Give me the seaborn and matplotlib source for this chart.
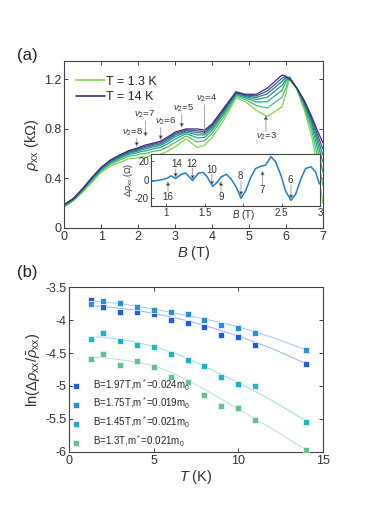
import matplotlib
matplotlib.use("Agg")
import matplotlib.pyplot as plt
from matplotlib.lines import Line2D
import seaborn as sns
import pandas as pd

# ---------------- (a) rho_xx vs B, several temperatures ----------------
field = [0, 0.25, 0.5, 0.75, 1.0, 1.25, 1.5, 1.75, 1.97, 2.1, 2.2, 2.4, 2.6, 2.8, 3.0,
         3.3, 3.6, 3.8, 4.0, 4.3, 4.65, 4.9, 5.2, 5.5, 5.8, 5.9, 6.0, 6.1, 6.3, 6.5,
         6.7, 6.85, 7.0]
rho_c0 = [0.17, 0.22, 0.29, 0.37, 0.45, 0.50, 0.53, 0.56, 0.565, 0.575, 0.57, 0.59, 0.595, 0.62, 0.655,
          0.72, 0.65, 0.67, 0.73, 0.86, 1.05, 1.02, 0.95, 0.90, 0.96, 0.98, 1.08, 1.22, 1.12, 0.95,
          0.74, 0.50, 0.20]
rho_c1 = [0.176, 0.226, 0.299, 0.382, 0.462, 0.515, 0.548, 0.58, 0.589, 0.601, 0.60, 0.619, 0.627, 0.655, 0.691,
          0.744, 0.695, 0.706, 0.763, 0.89, 1.065, 1.038, 0.989, 0.969, 1.035, 1.057, 1.13, 1.218, 1.123, 0.974,
          0.788, 0.587, 0.347]
rho_c2 = [0.18, 0.23, 0.306, 0.391, 0.471, 0.526, 0.561, 0.594, 0.607, 0.619, 0.622, 0.639, 0.65, 0.68, 0.717,
          0.762, 0.728, 0.732, 0.787, 0.912, 1.076, 1.051, 1.018, 1.02, 1.09, 1.113, 1.18, 1.22, 1.125, 0.992,
          0.823, 0.651, 0.455]
rho_c3 = [0.184, 0.234, 0.31, 0.397, 0.477, 0.534, 0.571, 0.604, 0.619, 0.633, 0.638, 0.655, 0.666, 0.698, 0.737,
          0.774, 0.752, 0.752, 0.805, 0.928, 1.084, 1.061, 1.038, 1.056, 1.13, 1.153, 1.20, 1.218, 1.127, 1.004,
          0.849, 0.697, 0.533]
rho_c4 = [0.186, 0.236, 0.314, 0.402, 0.482, 0.54, 0.578, 0.612, 0.629, 0.643, 0.65, 0.666, 0.679, 0.712, 0.751,
          0.784, 0.77, 0.766, 0.818, 0.94, 1.09, 1.068, 1.054, 1.084, 1.16, 1.184, 1.215, 1.212, 1.128, 1.014,
          0.868, 0.732, 0.592]
rho_c5 = [0.188, 0.238, 0.317, 0.406, 0.486, 0.545, 0.584, 0.619, 0.637, 0.652, 0.66, 0.676, 0.69, 0.724, 0.763,
          0.792, 0.785, 0.778, 0.829, 0.95, 1.095, 1.074, 1.067, 1.107, 1.185, 1.21, 1.225, 1.205, 1.129, 1.022,
          0.884, 0.761, 0.641]
rho_c6 = [0.19, 0.24, 0.32, 0.41, 0.49, 0.55, 0.59, 0.625, 0.645, 0.66, 0.67, 0.685, 0.70, 0.735, 0.775,
          0.80, 0.80, 0.79, 0.84, 0.96, 1.10, 1.08, 1.08, 1.13, 1.21, 1.235, 1.225, 1.20, 1.13, 1.03,
          0.90, 0.79, 0.69]
curve_names = ["c0", "c1", "c2", "c3", "c4", "c5", "c6"]
curve_colors = ["#86d549", "#4ac16d", "#22a884", "#1f9a8a", "#2a788e", "#39568c", "#482878"]

# inset: oscillating part
inset_B = [0.81, 0.90, 0.97, 1.01, 1.06, 1.12, 1.19, 1.25, 1.34, 1.42, 1.48, 1.53, 1.60, 1.66, 1.71,
           1.78, 1.84, 1.91, 1.97, 2.03, 2.10, 2.16, 2.23, 2.29, 2.36, 2.42, 2.49, 2.55, 2.62, 2.68,
           2.75, 2.81, 2.88, 2.94, 2.99]
inset_drho = [-1.5, -0.4, 0.7, 1.8, 4.4, 1.4, 5.9, 7.4, -0.7, 7.4, 8.1, 3.2, -7.1, -2.6, 3.2,
              5.9, 1.1, -8.2, -20, -11.9, 3.2, 12.2, 14.8, 15.9, 25.1, 19.6, 4.8, -11.9, -22.2, -15.6,
              1.1, 12.2, 14.1, 8.5, -4.4]

# ---------------- (b) ln amplitude vs T ----------------
T_K = [1.3, 2, 3, 4, 5, 6, 7, 8, 9, 10, 11, 14]
ln_197 = [-3.70, -3.80, -3.87, -3.88, -3.91, -4.00, -4.05, -4.11, -4.22, -4.26, -4.38, -4.66]
ln_175 = [-3.75, -3.71, -3.74, -3.80, -3.85, -3.88, -3.91, -4.00, -4.07, -4.12, -4.20, -4.46]
ln_145 = [-4.28, -4.19, -4.31, -4.38, -4.41, -4.51, -4.61, -4.69, -4.87, -4.97, -5.00, -5.55]
ln_130 = [-4.59, -4.52, -4.68, -4.62, -4.71, -4.86, -4.94, -5.14, -5.31, -5.33, -5.51, -5.97]

T_fit = [1.3, 2, 3, 4, 5, 6, 7, 8, 10, 12, 14]
fit_197 = [-3.78, -3.79, -3.82, -3.85, -3.90, -3.95, -4.01, -4.08, -4.24, -4.43, -4.66]
fit_175 = [-3.71, -3.72, -3.75, -3.79, -3.83, -3.88, -3.93, -3.98, -4.10, -4.26, -4.45]
fit_145 = [-4.25, -4.26, -4.29, -4.34, -4.40, -4.48, -4.58, -4.70, -4.95, -5.22, -5.53]
fit_130 = [-4.56, -4.57, -4.60, -4.64, -4.69, -4.79, -4.91, -5.05, -5.35, -5.65, -5.97]

series_labels = [r"B=1.97T,m$^*$=0.024m$_0$", r"B=1.75T,m$^*$=0.019m$_0$",
                 r"B=1.45T,m$^*$=0.021m$_0$", r"B=1.3T,m$^*$=0.021m$_0$"]
series_colors = ["#1b5fe0", "#2590dc", "#1cb5c6", "#62c48a"]

sns.set_theme(style="ticks")
plt.rcParams["font.family"] = ["Liberation Sans", "DejaVu Sans"]
plt.rcParams["mathtext.fontset"] = "custom"
plt.rcParams["mathtext.rm"] = "Liberation Sans"
plt.rcParams["mathtext.it"] = "Liberation Sans:italic"
plt.rcParams["axes.unicode_minus"] = False
plt.rcParams["axes.edgecolor"] = "#444444"
plt.rcParams["xtick.color"] = "#444444"
plt.rcParams["ytick.color"] = "#444444"
plt.rcParams["xtick.labelcolor"] = "#333333"
plt.rcParams["ytick.labelcolor"] = "#333333"

fig = plt.figure(figsize=(3.74, 5.29), dpi=100)
ax_a = fig.add_axes([0.172, 0.569, 0.691, 0.316])
ax_b = fig.add_axes([0.185, 0.146, 0.678, 0.311])

def box_ticks(ax, size=8):
    ax.tick_params(direction="in", top=True, right=True, length=3, width=0.7, labelsize=size, pad=2)
    for s in ax.spines.values():
        s.set_linewidth(0.8)

# ---- panel (a)
df_a = pd.DataFrame({
    "B": field * len(curve_names),
    "rho": rho_c0 + rho_c1 + rho_c2 + rho_c3 + rho_c4 + rho_c5 + rho_c6,
    "curve": sum([[n] * len(field) for n in curve_names], []),
})
sns.lineplot(data=df_a, x="B", y="rho", hue="curve", palette=curve_colors,
             estimator=None, lw=0.9, legend=False, ax=ax_a)
ax_a.set_xlim(0, 7)
ax_a.set_ylim(0, 1.35)
ax_a.set_xticks(range(8))
ax_a.set_yticks([0, 0.4, 0.8, 1.2])
ax_a.set_yticklabels(["0", "0.4", "0.8", "1.2"])
ax_a.set_xlabel(r"$B$ (T)", fontsize=10.5, labelpad=1, color="#333333")
ax_a.set_ylabel(r"$\rho_{\rm xx}$ (k$\Omega$)", fontsize=10.5, labelpad=2, color="#333333")
box_ticks(ax_a, 9)

leg_a = ax_a.legend(handles=[Line2D([], [], color=curve_colors[0], lw=1.2),
                             Line2D([], [], color=curve_colors[-1], lw=1.2)],
                    labels=["T = 1.3 K", "T = 14 K"], loc="upper left",
                    bbox_to_anchor=(0.025, 0.94), frameon=False, fontsize=9,
                    handlelength=2.3, handletextpad=0.1, labelspacing=0.25, borderaxespad=0)

arrow_kw = dict(arrowstyle="-|>", mutation_scale=6, lw=0.6, fc="black", ec="#999999",
                shrinkA=0, shrinkB=0)
nu_marks = [("8", 1.96, 0.656, 1.86, 0.775), ("7", 2.20, 0.736, 2.16, 0.915),
            ("6", 2.61, 0.71, 2.73, 0.86), ("5", 3.18, 0.81, 3.23, 0.965),
            ("4", 3.80, 0.75, 3.86, 1.045)]
for n, bx, by, tx, ty in nu_marks:
    ax_a.annotate("", xy=(bx, by), xytext=(bx, ty - 0.05), arrowprops=arrow_kw)
    ax_a.text(tx, ty, r"$\nu_2$=" + n, fontsize=6.8, ha="center", va="center", color="#333333")
ax_a.annotate("", xy=(5.46, 0.91), xytext=(5.46, 0.78), arrowprops=arrow_kw)
ax_a.text(5.49, 0.74, r"$\nu_2$=3", fontsize=6.8, ha="center", va="center", color="#333333")

# inset
ax_in = fig.add_axes([0.404, 0.611, 0.452, 0.098])
sns.lineplot(x=inset_B, y=inset_drho, color="#1f7fd0", lw=1.1, ax=ax_in)
ax_in.set_xlim(0.8, 3.0)
ax_in.set_ylim(-28, 28)
ax_in.set_xticks([1, 1.5, 2, 2.5, 3])
ax_in.set_xticklabels(["1", "1.5", "", "2.5", "3"])
ax_in.set_yticks([-20, 0, 20])
ax_in.set_yticklabels(["-20", "0", "20"])
ax_in.tick_params(direction="in", length=2.5, width=0.6, labelsize=7, pad=1.5)
for s in ax_in.spines.values():
    s.set_linewidth(0.8)
ax_in.set_xlabel(r"$B$ (T)", fontsize=7, color="#333333")
ax_in.xaxis.set_label_coords(0.545, -0.04)
ax_in.xaxis.label.set_va("top")
ax_in.set_ylabel(r"$\Delta\rho_{\rm xx}$ ($\Omega$)", fontsize=6.5, labelpad=0, color="#333333")

in_down = [("14", 1.12, 2.2, 1.13, 17), ("12", 1.34, 0.0, 1.33, 17.5),
           ("10", 1.59, -6.3, 1.59, 11), ("8", 1.97, -17.5, 1.96, 4), ("6", 2.62, -21, 2.61, 0)]
for n, bx, by, tx, ty in in_down:
    ax_in.annotate("", xy=(bx, by), xytext=(bx, ty - 5), arrowprops=arrow_kw)
    ax_in.text(tx, ty, n, fontsize=7, ha="center", va="center", color="#333333")
in_up = [("16", 1.02, -1.5, 1.02, -18), ("9", 1.71, -1.5, 1.71, -18), ("7", 2.25, 10, 2.24, -11)]
for n, bx, by, tx, ty in in_up:
    ax_in.annotate("", xy=(bx, by), xytext=(bx, ty + 5), arrowprops=arrow_kw)
    ax_in.text(tx, ty, n, fontsize=7, ha="center", va="center", color="#333333")

# ---- panel (b)
for ys, fit, lab, col in zip([ln_197, ln_175, ln_145, ln_130],
                             [fit_197, fit_175, fit_145, fit_130],
                             series_labels, series_colors):
    sns.lineplot(x=T_fit, y=fit, color=col, lw=0.7, alpha=0.45, ax=ax_b)
    sns.scatterplot(x=T_K, y=ys, color=col, marker="s", s=22, edgecolor="#e8f0ff",
                    linewidth=0.6, label=lab, ax=ax_b, zorder=3)
ax_b.set_xlim(0, 15)
ax_b.set_ylim(-6, -3.5)
ax_b.set_xticks([0, 5, 10, 15])
ax_b.set_yticks([-3.5, -4, -4.5, -5, -5.5, -6])
ax_b.set_yticklabels(["-3.5", "-4", "-4.5", "-5", "-5.5", "-6"])
ax_b.set_xlabel(r"$T$ (K)", fontsize=10.5, labelpad=1, color="#333333")
ax_b.set_ylabel(r"ln($\Delta\rho_{\rm xx}/\bar{\rho}_{\rm xx}$)", fontsize=10.5, labelpad=2, color="#333333")
box_ticks(ax_b, 9)
ax_b.legend(loc="lower left", bbox_to_anchor=(-0.04, -0.025), frameon=False, fontsize=7,
            handletextpad=0.8, labelspacing=0.35, markerscale=1.0, borderaxespad=0.3)

fig.text(0.045, 0.896, "(a)", fontsize=12, ha="left", va="center", color="#222222")
fig.text(0.045, 0.484, "(b)", fontsize=12, ha="left", va="center", color="#222222")

fig.savefig("out.png", dpi=100)
